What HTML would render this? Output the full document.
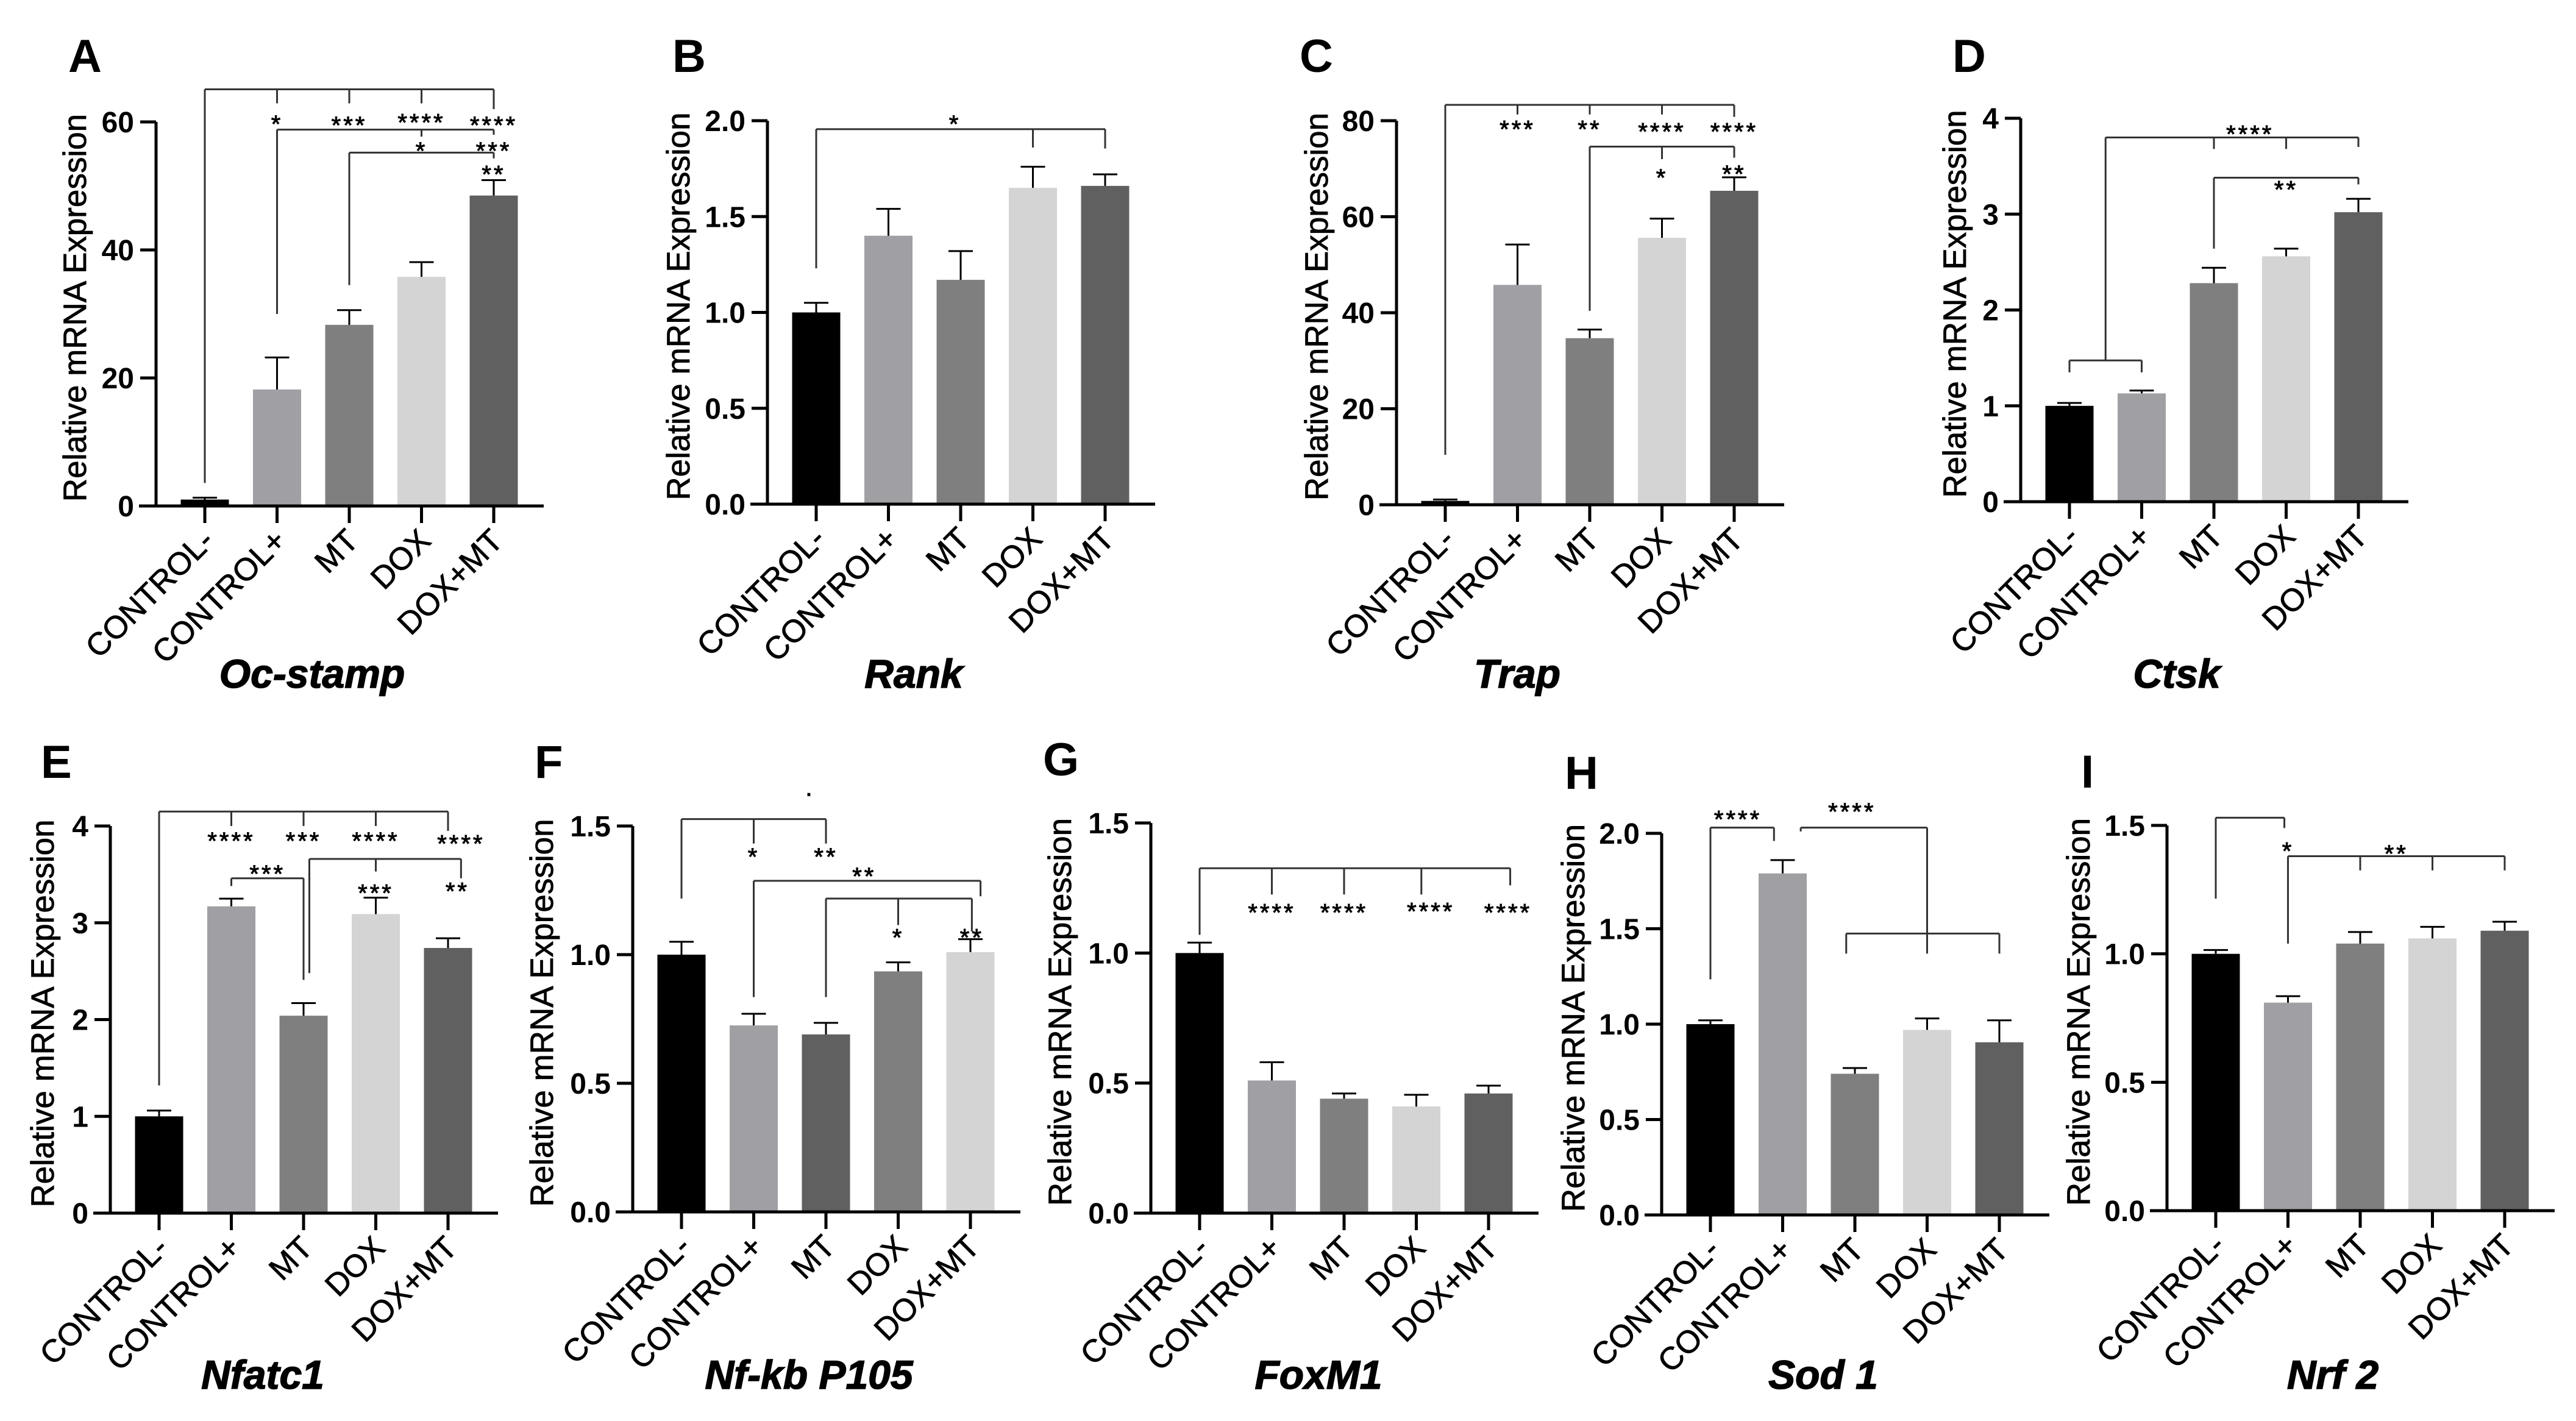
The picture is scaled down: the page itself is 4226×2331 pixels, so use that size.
<!DOCTYPE html>
<html><head><meta charset="utf-8"><style>
html,body{margin:0;padding:0;background:#fff;}
svg{display:block;}
text{font-family:"Liberation Sans",Arial,sans-serif;}
</style></head>
<body>
<svg id="fig" width="4226" height="2331" viewBox="0 0 4226 2331" xmlns="http://www.w3.org/2000/svg"></svg>
<script>
// ---- data ----
const categories = ["CONTROL-","CONTROL+","MT","DOX","DOX+MT"];
const valsA = [1.0, 18.2, 28.3, 35.8, 48.5];
const errA  = [0.3, 5.0, 2.3, 2.3, 2.4];
const valsB = [1.0, 1.40, 1.17, 1.65, 1.66];
const errB  = [0.05, 0.14, 0.15, 0.11, 0.06];
const valsC = [0.8, 45.8, 34.7, 55.6, 65.4];
const errC  = [0.3, 8.4, 1.8, 4.0, 2.8];
const valsD = [1.0, 1.13, 2.28, 2.56, 3.02];
const errD  = [0.03, 0.03, 0.16, 0.08, 0.14];
const valsE = [1.0, 3.17, 2.04, 3.09, 2.74];
const errE  = [0.06, 0.08, 0.13, 0.17, 0.10];
const valsF = [1.0, 0.725, 0.69, 0.935, 1.01];
const errF  = [0.05, 0.045, 0.045, 0.035, 0.05];
const valsG = [1.0, 0.51, 0.44, 0.41, 0.46];
const errG  = [0.04, 0.07, 0.02, 0.045, 0.03];
const valsH = [1.0, 1.79, 0.74, 0.97, 0.905];
const errH  = [0.02, 0.07, 0.03, 0.06, 0.115];
const valsI = [1.0, 0.81, 1.04, 1.06, 1.09];
const errI  = [0.015, 0.025, 0.045, 0.045, 0.035];
const ticksA = [0, 20, 40, 60];
const ticksB = [0, 0.5, 1.0, 1.5, 2.0];
const ticksC = [0, 20, 40, 60, 80];
const ticksD = [0, 1, 2, 3, 4];
const ticksE = [0, 1, 2, 3, 4];
const ticksF = [0, 0.5, 1.0, 1.5];
const ticksG = [0, 0.5, 1.0, 1.5];
const ticksH = [0, 0.5, 1.0, 1.5, 2.0];
const ticksI = [0, 0.5, 1.0, 1.5];
const titles = ["Oc-stamp","Rank","Trap","Ctsk","Nfatc1","Nf-kb P105","FoxM1","Sod 1","Nrf 2"];
const letters = ["A","B","C","D","E","F","G","H","I"];
const paletteDefault = ["#000000","#a0a0a4","#7f7f7f","#d4d4d4","#606060"];
const paletteF = ["#000000","#a0a0a4","#606060","#7f7f7f","#d4d4d4"];
// brackets: [leftIndex, rightIndex, yValue, [[legIndex, legBottomValue], ...]]
const bracketsA = [[0,4,65.1,[[0,3.6],[1,62.9],[2,62.9],[3,62.9],[4,62]]],[1,4,58.8,[[1,30],[3,57.7],[4,58]]],[2,4,55.2,[[2,34.5],[4,54.3]]]];
const starsA = [[1,60.5,"*"],[2,60.3,"***"],[3,60.7,"****"],[4,60.3,"****"],[3,56.3,"*"],[4,56.3,"***"],[4,52.6,"**"]];
const bracketsB = [[0,4,1.956,[[0,1.23],[3,1.86],[4,1.855]]]];
const starsB = [[1.92,2.01,"*"]];
const bracketsC = [[0,4,83.3,[[0,10.4],[1,81.3],[2,81.3],[3,81.3],[4,80.8]]],[2,4,74.6,[[2,40.4],[3,72],[4,72.3]]]];
const starsC = [[1,79.3,"***"],[2,79.3,"**"],[3,78.8,"****"],[4,78.8,"****"],[3,69.2,"*"],[4,70,"**"]];
const bracketsD = [[0,1,1.474,[[0,1.35],[1,1.35]]],[0.5,4,3.80,[[0.5,1.474],[2,3.68],[3,3.68],[4,3.70]]],[2,4,3.38,[[2,2.64],[4,3.31]]]];
const starsD = [[2.5,3.89,"****"],[3,3.31,"**"]];
const bracketsE = [[0,4,4.15,[[0,1.32],[1,4.0],[2,4.0],[3,4.0],[4,3.95]]],[1,2,3.46,[[1,3.38],[2,2.41]]],[2.08,4.18,3.66,[[2.08,2.48],[3,3.53],[4.18,3.46]]]];
const starsE = [[1,3.9,"****"],[2,3.9,"***"],[3,3.9,"****"],[4.18,3.87,"****"],[1.5,3.56,"***"],[3,3.36,"***"],[4.13,3.38,"**"]];
const bracketsF = [[0,2,1.527,[[0,1.218],[1,1.432],[2,1.432]]],[1,4.14,1.287,[[1,0.835],[4.14,1.227]]],[2,4.02,1.218,[[2,0.835],[3,1.115],[4.02,1.09]]]];
const starsF = [[1,1.40,"*"],[2,1.40,"**"],[2.53,1.325,"**"],[3,1.086,"*"],[4.02,1.086,"**"],[1.78,1.67,"."]];
const bracketsG = [[0,4.3,1.326,[[0,1.07],[1,1.225],[2,1.225],[3.07,1.225],[4.3,1.26]]]];
const starsG = [[1,1.175,"****"],[2,1.175,"****"],[3.2,1.18,"****"],[4.27,1.175,"****"]];
const bracketsH = [[0,0.88,2.03,[[0,1.235],[0.88,1.96]]],[1.25,3,2.03,[[1.25,2.01],[3,1.37]]],[1.88,4,1.475,[[1.88,1.37],[4,1.37]]]];
const starsH = [[0.38,2.1,"****"],[1.96,2.14,"****"]];
const bracketsI = [[0,0.95,1.53,[[0,1.215],[0.95,1.49]]],[1,4,1.38,[[1,1.04],[2,1.325],[3,1.325],[4,1.325]]]];
const starsI = [[1,1.42,"*"],[2.5,1.41,"**"]];

// ---- layout (pixels, not data) ----
const layout = [
 {ax:256, y0:830, yt:200, tx:512, ty:1128, lx:112, ly:118, yo:133},
 {ax:1259,y0:827, yt:198, tx:1499,ty:1128, lx:1103,ly:118, yo:146},
 {ax:2291,y0:828, yt:198, tx:2489,ty:1128, lx:2132,ly:118, yo:131},
 {ax:3315,y0:823, yt:194, tx:3571,ty:1128, lx:3203,ly:118, yo:108},
 {ax:181, y0:1990,yt:1355,tx:431, ty:2278, lx:67,  ly:1276, yo:111},
 {ax:1038,y0:1988,yt:1355,tx:1327,ty:2278, lx:877, ly:1276, yo:149},
 {ax:1888,y0:1990,yt:1350,tx:2163,ty:2278, lx:1711,ly:1272, yo:149},
 {ax:2726,y0:1993,yt:1367,tx:2991,ty:2278, lx:2567,ly:1294, yo:145},
 {ax:3555,y0:1986,yt:1354,tx:3827,ty:2278, lx:3414,ly:1292, yo:145}
];
const panelVals = [valsA,valsB,valsC,valsD,valsE,valsF,valsG,valsH,valsI];
const panelErrs = [errA,errB,errC,errD,errE,errF,errG,errH,errI];
const panelTicks = [ticksA,ticksB,ticksC,ticksD,ticksE,ticksF,ticksG,ticksH,ticksI];
const panelBrackets = [bracketsA,bracketsB,bracketsC,bracketsD,bracketsE,bracketsF,bracketsG,bracketsH,bracketsI];
const panelStars = [starsA,starsB,starsC,starsD,starsE,starsF,starsG,starsH,starsI];
const panelPalettes = [paletteDefault,paletteDefault,paletteDefault,paletteDefault,paletteDefault,paletteF,paletteDefault,paletteDefault,paletteDefault];

const NS = "http://www.w3.org/2000/svg";
const svg = document.getElementById("fig");
function mk(tag, attrs, parent){
  const e = document.createElementNS(NS, tag);
  for (const k in attrs) e.setAttribute(k, attrs[k]);
  parent.appendChild(e);
  return e;
}
function fmt(t, ticks){
  const dec = ticks.some(v => Math.round(v) !== v);
  return dec ? t.toFixed(1) : String(t);
}
for (let p = 0; p < 9; p++){
  const L = layout[p];
  const ticks = panelTicks[p];
  const ymax = ticks[ticks.length-1];
  const yS = v => L.y0 - (v / ymax) * (L.y0 - L.yt);
  const xS = i => L.ax + 80 + i * 118.5;
  const g = mk("g", {}, svg);
  
  

  const letter = mk("text", {x:L.lx, y:L.ly, "font-size":76, "font-weight":"bold", fill:"#000"}, g);
  letter.textContent = letters[p];
  
  

  // bars
  const vals = panelVals[p], errs = panelErrs[p], pal = panelPalettes[p];
  for (let i = 0; i < vals.length; i++){
    const x = xS(i), top = yS(vals[i]);
    const bar = mk("rect", {x:x-39.5, y:top, width:79, height:L.y0-top, fill:pal[i]}, g);
    
    
    const et = yS(vals[i] + errs[i]);
    const eb = mk("path", {d:`M${x} ${top} V${et} M${x-20} ${et} H${x+20}`, stroke:"#000", "stroke-width":3, fill:"none"}, g);
    
    
  }
  // axes
  const yax = mk("path", {d:`M${L.ax} ${L.yt} V${L.y0}`, stroke:"#000", "stroke-width":5, fill:"none"}, g);
  
  
  const xax = mk("path", {d:`M${L.ax-28} ${L.y0} H${L.ax+636}`, stroke:"#000", "stroke-width":5, fill:"none"}, g);
  
  
  for (const t of ticks){
    const y = yS(t);
    mk("path", {d:`M${L.ax-26} ${y} H${L.ax}`, stroke:"#000", "stroke-width":5}, g);
    const tl = mk("text", {x:L.ax-36, y:y+17, "font-size":48, "font-weight":"bold", "text-anchor":"end", fill:"#000"}, g);
    tl.textContent = fmt(t, ticks);
    
    
  }
  for (let i = 0; i < categories.length; i++){
    const x = xS(i);
    mk("path", {d:`M${x} ${L.y0} V${L.y0+28}`, stroke:"#000", "stroke-width":5}, g);
    const cl = mk("text", {x:x+18, y:L.y0+60, "font-size":52, "text-anchor":"end", fill:"#000",
      stroke:"#000", "stroke-width":0.8, transform:`rotate(-45 ${x+18} ${L.y0+60})`}, g);
    cl.textContent = categories[i];
    
    
  }
  // y title
  const cy = (L.y0 + L.yt) / 2 - 10;
  const bx = L.ax - L.yo + 18;
  const yt = mk("text", {x:bx, y:cy, "font-size":53, "text-anchor":"middle", fill:"#000",
    stroke:"#000", "stroke-width":0.8, transform:`rotate(-90 ${bx} ${cy})`}, g);
  yt.textContent = "Relative mRNA Expression";
  
  
  // gene title
  const tt = mk("text", {x:L.tx, y:L.ty, "font-size":66, "font-weight":"bold", "font-style":"italic", "text-anchor":"middle", fill:"#000",
    stroke:"#000", "stroke-width":1.5}, g);
  tt.textContent = titles[p];
  
  
  // brackets
  for (const b of panelBrackets[p]){
    let d = `M${xS(b[0])} ${yS(b[2])} H${xS(b[1])}`;
    for (const leg of b[3]) d += ` M${xS(leg[0])} ${yS(b[2])} V${yS(leg[1])}`;
    const br = mk("path", {d:d, stroke:"#333", "stroke-width":3, fill:"none"}, g);
    
    
  }
  for (const s of panelStars[p]){
    const st = mk("text", {x:xS(s[0]), y:yS(s[1]) + 22, "font-size":40, "letter-spacing":4, "text-anchor":"middle", fill:"#000",
      stroke:"#000", "stroke-width":1}, g);
    st.textContent = s[2];
    
    
  }
}
</script>
</body></html>
